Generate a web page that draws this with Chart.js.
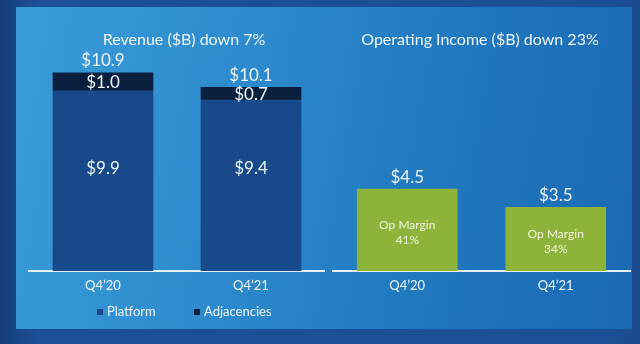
<!DOCTYPE html>
<html>
<head>
<meta charset="utf-8">
<script src="https://cdn.jsdelivr.net/npm/chart.js@4"></script>
<style>
  html, body { margin: 0; padding: 0; }
  body { width: 640px; height: 344px; overflow: hidden; background: #1b4c90; position: relative; }
  #frame { position: absolute; left: 0; top: 0; width: 640px; height: 344px;
    background: linear-gradient(90deg, #173f7c 0%, #1c5096 6%, #1c5096 94%, #1a4a8c 100%); }
  #panel { position: absolute; left: 16px; top: 7px; width: 616px; height: 322px;
    background: linear-gradient(100deg, #3b9cda 0%, #2d8bcd 35%, #2179c0 65%, #1a69b3 100%); }
  canvas { position: absolute; top: 0; }
  #rev { left: 0; }
  #opi { left: 325px; }
</style>
</head>
<body>
<div id="frame"></div>
<div id="panel"></div>
<canvas id="rev" width="325" height="330"></canvas>
<canvas id="opi" width="315" height="311"></canvas>
<script>
// Quarterly revenue split and operating income, $B
const categories = ["Q4’20", "Q4’21"];
const platformRevenue = [9.9, 9.4];
const adjacenciesRevenue = [1.0, 0.7];
const operatingIncome = [4.5, 3.5];
const opMarginPct = [41, 34];
const seriesNames = ["Platform", "Adjacencies"];
const titles = ["Revenue ($B) down 7%", "Operating Income ($B) down 23%"];

const totalRevenue = platformRevenue.map((v, i) => +(v + adjacenciesRevenue[i]).toFixed(1));

const TEXT = "#eef6fc";
const FONT = "Lato, 'Noto Sans', sans-serif";
const money = v => "$" + v.toFixed(1);

Chart.defaults.font.family = FONT;
Chart.defaults.color = TEXT;

function xScale() {
  return {
    type: "category",
    stacked: true,
    grid: { display: false, drawTicks: false },
    border: { display: true, color: "#e4f0fa", width: 2 },
    ticks: { color: TEXT, font: { size: 13 }, padding: 7 },
    afterFit(s) { s.height = 40; }
  };
}
function yScale() {
  return { display: false, stacked: true, min: 0, max: 14.9 };
}

function drawText(ctx, text, x, y, size, color, align) {
  ctx.font = size + "px " + FONT;
  ctx.fillStyle = color || TEXT;
  ctx.textAlign = align || "center";
  ctx.textBaseline = "middle";
  ctx.fillText(text, x, y);
}

// Panel heading drawn over each chart
const headingPlugin = {
  id: "heading",
  afterDraw(chart, args, opts) {
    const ctx = chart.ctx;
    ctx.save();
    drawText(ctx, opts.text, opts.x, opts.y, 16);
    ctx.restore();
  }
};

// Compact legend row built from the chart's datasets
const legendRow = {
  id: "legendRow",
  afterDraw(chart, args, opts) {
    const ctx = chart.ctx;
    ctx.save();
    chart.data.datasets.forEach((ds, i) => {
      const x = opts.starts[i];
      ctx.fillStyle = ds.backgroundColor;
      ctx.fillRect(x, opts.y - 3, 6, 6);
      drawText(ctx, ds.label, x + 10, opts.y, 13, TEXT, "left");
    });
    ctx.restore();
  }
};

// Value labels for the revenue bars
const revenueLabels = {
  id: "revenueLabels",
  afterDatasetsDraw(chart) {
    const ctx = chart.ctx;
    const y = chart.scales.y;
    const plat = chart.getDatasetMeta(0).data;
    const adj = chart.getDatasetMeta(1).data;
    ctx.save();
    plat.forEach((bar, i) => {
      drawText(ctx, money(platformRevenue[i]), bar.x, y.getPixelForValue(5.65), 17);
    });
    adj.forEach((bar, i) => {
      drawText(ctx, money(adjacenciesRevenue[i]), bar.x, (bar.y + bar.base) / 2 + 1, 17);
      drawText(ctx, money(totalRevenue[i]), bar.x, y.getPixelForValue(totalRevenue[i]) - 12, 17);
    });
    ctx.restore();
  }
};

// Value and margin labels for the operating income bars
const incomeLabels = {
  id: "incomeLabels",
  afterDatasetsDraw(chart) {
    const ctx = chart.ctx;
    const bars = chart.getDatasetMeta(0).data;
    ctx.save();
    bars.forEach((bar, i) => {
      drawText(ctx, money(operatingIncome[i]), bar.x, bar.y - 12, 17);
      const mid = (bar.y + bar.base) / 2 + 2;
      drawText(ctx, "Op Margin", bar.x, mid - 7, 12, "#f3f6dc");
      drawText(ctx, opMarginPct[i] + "%", bar.x, mid + 8, 12, "#f3f6dc");
    });
    ctx.restore();
  }
};

new Chart(document.getElementById("rev"), {
  type: "bar",
  data: {
    labels: categories,
    datasets: [
      { label: seriesNames[0], data: platformRevenue, backgroundColor: "#18498a", barThickness: 100 },
      { label: seriesNames[1], data: adjacenciesRevenue, backgroundColor: "#0b1f3e", barThickness: 100 }
    ]
  },
  options: {
    responsive: false,
    devicePixelRatio: 1,
    animation: false,
    layout: { padding: { left: 29, right: 0, top: 0, bottom: 19 } },
    scales: { x: xScale(), y: yScale() },
    plugins: {
      tooltip: { enabled: false },
      legend: { display: false },
      heading: { text: titles[0], x: 184, y: 40 },
      legendRow: { starts: [97, 194], y: 312 }
    }
  },
  plugins: [headingPlugin, revenueLabels, legendRow]
});

new Chart(document.getElementById("opi"), {
  type: "bar",
  data: {
    labels: categories,
    datasets: [
      { label: "Operating Income", data: operatingIncome, backgroundColor: "#8db33b", barThickness: 100 }
    ]
  },
  options: {
    responsive: false,
    devicePixelRatio: 1,
    animation: false,
    layout: { padding: { left: 8, right: 10, top: 0, bottom: 0 } },
    scales: { x: xScale(), y: yScale() },
    plugins: {
      tooltip: { enabled: false },
      legend: { display: false },
      heading: { text: titles[1], x: 155, y: 40 }
    }
  },
  plugins: [headingPlugin, incomeLabels]
});
</script>
</body>
</html>
